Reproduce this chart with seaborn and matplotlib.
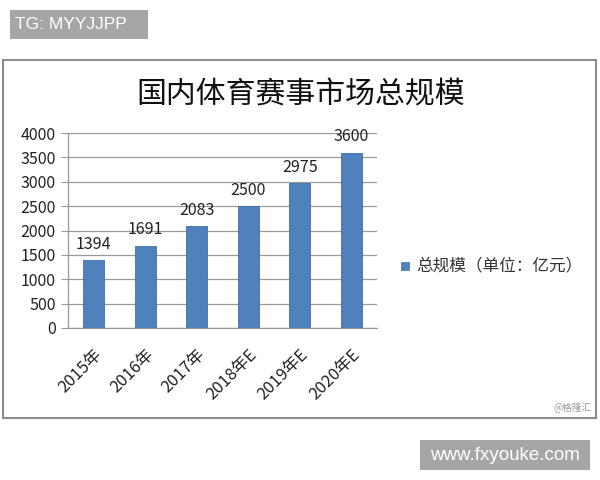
import matplotlib
matplotlib.use("Agg")
import matplotlib.pyplot as plt
import seaborn as sns
import pandas as pd
from matplotlib.patches import Rectangle

# data
years = ["2015年", "2016年", "2017年", "2018年E", "2019年E", "2020年E"]
scale = [1394, 1691, 2083, 2500, 2975, 3600]
yticks = [0, 500, 1000, 1500, 2000, 2500, 3000, 3500, 4000]

sns.set_style("white")
plt.rcParams['font.family'] = ['Noto Sans CJK SC', 'DejaVu Sans']

df = pd.DataFrame({"year": years, "scale": scale})

fig = plt.figure(figsize=(6, 4.8), dpi=100)
ax = fig.add_axes([68 / 600, 1 - 328 / 480, 309 / 600, 195 / 480])

sns.barplot(data=df, x="year", y="scale", color="#4F81BD", saturation=1,
            width=0.41, edgecolor="#3F6FA8", linewidth=0.6, ax=ax, zorder=3)

for i, v in enumerate(scale):
    ax.text(i, v + 150, str(v), ha="center", va="bottom", fontsize=11.5, color="#222222")

ax.set_ylim(0, 4000)
ax.set_yticks(yticks)
ax.set_yticklabels([str(t) for t in yticks], fontsize=11.5, color="#222222")
ax.set_xlim(-0.5, len(years) - 0.5)
ax.grid(axis="y", color="#9a9a9a", linewidth=0.9, zorder=0)
ax.set_xlabel("")
ax.set_ylabel("")

# category boundary ticks like the spreadsheet chart
ax.set_xticks([i - 0.5 for i in range(len(years) + 1)], minor=True)
ax.tick_params(axis="x", which="minor", length=4, color="#888888", direction="out")
ax.tick_params(axis="x", which="major", length=0, pad=13)
ax.tick_params(axis="y", length=5, color="#9a9a9a", direction="out", pad=4, left=True)
ax.set_xticks(range(len(years)))
ax.set_xticklabels(years, rotation=45, ha="right", rotation_mode="anchor",
                   fontsize=12, color="#222222")

for s in ["top", "right"]:
    ax.spines[s].set_visible(False)
for s in ["left", "bottom"]:
    ax.spines[s].set_color("#999999")
    ax.spines[s].set_linewidth(0.9)

# title
fig.text(301 / 600, 1 - 95 / 480, "国内体育赛事市场总规模", ha="center", va="center",
         fontsize=21.5, color="#111111")

# legend
fig.patches.append(Rectangle((401 / 600, 1 - 270 / 480), 8 / 600, 8 / 480,
                             transform=fig.transFigure, facecolor="#4F81BD",
                             edgecolor="#3F6FA8", linewidth=0.5))
fig.text(416 / 600, 1 - 266 / 480, "总规模（单位：亿元）", ha="left", va="center",
         fontsize=12, color="#333333")

# chart border
fig.patches.append(Rectangle((3 / 600, 1 - 418 / 480), 593 / 600, 358 / 480,
                             transform=fig.transFigure, facecolor="none",
                             edgecolor="#8c8c8c", linewidth=1.5))
fig.text(592 / 600, 1 - 408 / 480, "@格隆汇", ha="right", va="center",
         fontsize=7, color="#999999")

# overlay boxes
fig.patches.append(Rectangle((10 / 600, 1 - 39 / 480), 138 / 600, 29 / 480,
                             transform=fig.transFigure, facecolor="#a6a6a6",
                             edgecolor="none"))
fig.text(15 / 600, 1 - 24.5 / 480, "TG: MYYJJPP", ha="left", va="center",
         fontsize=12.5, color="white", family="Liberation Sans")
fig.patches.append(Rectangle((420 / 600, 1 - 470 / 480), 170 / 600, 30 / 480,
                             transform=fig.transFigure, facecolor="#a6a6a6",
                             edgecolor="none"))
fig.text(505 / 600, 1 - 455 / 480, "www.fxyouke.com", ha="center", va="center",
         fontsize=13.5, color="white", family="Liberation Sans")

fig.savefig("out.png", dpi=100, facecolor="white")
